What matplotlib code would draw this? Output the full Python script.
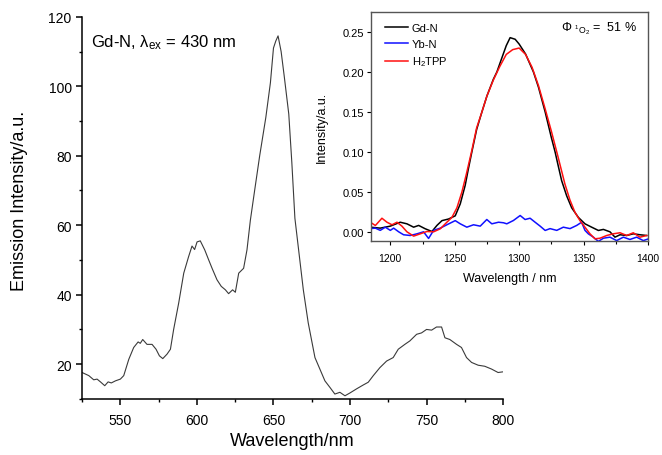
import matplotlib
matplotlib.use('Agg')
import matplotlib.pyplot as plt
from matplotlib.ticker import MultipleLocator

plt.rcParams['font.family'] = ['Liberation Sans', 'DejaVu Sans']
plt.rcParams['mathtext.fontset'] = 'custom'
plt.rcParams['mathtext.rm'] = 'Liberation Sans'
plt.rcParams['mathtext.it'] = 'Liberation Sans:italic'
plt.rcParams['mathtext.default'] = 'regular'

# main emission spectrum (Gd-N, excitation 430 nm)
wl_main = [525, 529.4, 532.6, 534.8, 537, 539.8, 542, 544.1, 546.8, 550,
           552.2, 555.5, 558.7, 561.6, 563, 564.6, 567.4, 570.7, 573.3, 575.5,
           577.7, 580.5, 582.7, 584.8, 588.1, 591.4, 594.6, 596.8, 598.5, 600.1,
           602.2, 605.1, 607.7, 609.9, 613.1, 615.9, 618.6, 620.7, 623.3, 625.1,
           627.3, 630.5, 632.7, 634.9, 637.7, 641, 645, 648, 650, 651.5,
           653, 655, 657, 660, 662, 664, 669.5, 672.7, 677.1, 680.3,
           683.6, 686.9, 690.1, 693.4, 696.7, 699.9, 704.3, 708.6, 711.9, 715.2,
           719.5, 723.9, 728.2, 731.5, 735.8, 739.1, 743.5, 746.7, 750, 753.3,
           756.5, 759.8, 762, 765.2, 769.6, 772.8, 776.1, 779.4, 783.7, 788,
           792.4, 796.7, 800]
em_main = [17.6, 16.7, 15.5, 15.7, 14.9, 13.8, 14.9, 14.6, 15.2, 15.7,
           16.7, 21.4, 24.8, 26.4, 26.0, 27.1, 25.7, 25.7, 24.3, 22.4,
           21.6, 22.9, 24.3, 30.0, 37.6, 46.2, 51.0, 54.0, 53.0, 55.2,
           55.5, 52.9, 50.0, 47.6, 44.3, 42.4, 41.4, 40.3, 41.4, 40.7,
           46.2, 47.6, 52.9, 61.4, 70.0, 80.0, 91.0, 101.0, 111.0, 113.0,
           114.5, 110.0, 103.0, 92.0, 78.0, 62.0, 41.4, 31.9, 21.9, 18.6,
           15.2, 13.3, 11.4, 11.9, 10.9, 11.7, 12.9, 14.0, 14.8, 16.7,
           19.0, 20.9, 21.9, 24.3, 25.7, 26.7, 28.6, 29.0, 30.0, 29.8,
           30.7, 30.7, 27.6, 27.1, 25.7, 24.8, 21.9, 20.5, 19.7, 19.4,
           18.6, 17.6, 17.8]

# inset: singlet oxygen phosphorescence
wl_gd = [1184.5, 1192.2, 1200, 1207.7, 1212.9, 1218.1, 1222, 1227.1, 1232.3, 1236.2,
         1240.1, 1245.2, 1250.4, 1254.3, 1258.1, 1260.5, 1263.3, 1267, 1271.1, 1275, 1280,
         1282.7, 1286, 1290, 1293, 1296.9, 1300, 1305, 1311.1, 1315, 1320.2,
         1325, 1327.9, 1330, 1333, 1336.9, 1340.8, 1346, 1351.1, 1356.3, 1361.5,
         1365.4, 1370.5, 1374.4, 1378.3, 1383.5, 1388.6, 1393.8, 1399]
gd_n = [0.0058, 0.0046, 0.0071, 0.012, 0.010, 0.0058, 0.008, 0.0038, 0.0004, 0.008,
        0.014, 0.016, 0.020, 0.035, 0.058, 0.078, 0.100, 0.128, 0.150, 0.170, 0.191,
        0.200, 0.215, 0.233, 0.243, 0.241, 0.235, 0.2225, 0.200, 0.181, 0.150,
        0.118, 0.100, 0.085, 0.064, 0.045, 0.030, 0.018, 0.010, 0.0058, 0.0017,
        0.003, 0.0, -0.0067, -0.0037, -0.0046, -0.0025, -0.0037, -0.0046]

wl_h2 = [1184.5, 1188.4, 1193.5, 1197.4, 1201.3, 1205.2, 1209, 1212.9, 1218.1, 1223.3,
         1228.4, 1233.6, 1238.8, 1243.9, 1247.8, 1251.7, 1255.6, 1259, 1263.3, 1267,
         1271.1, 1275, 1280, 1285, 1290, 1295, 1300, 1305, 1310, 1315,
         1320, 1325, 1330, 1335.5, 1339.4, 1343.3, 1347.2, 1351.1, 1355, 1358.9,
         1362.8, 1368, 1373.1, 1378.3, 1383.5, 1388.6, 1393.8, 1399]
h2tpp = [0.012, 0.0079, 0.017, 0.012, 0.0088, 0.012, 0.0071, 0.0, -0.0054, -0.0025,
         0.0004, 0.0, 0.0038, 0.012, 0.018, 0.030, 0.050, 0.072, 0.102, 0.130,
         0.150, 0.170, 0.190, 0.207, 0.222, 0.228, 0.230, 0.222, 0.206, 0.183,
         0.155, 0.126, 0.095, 0.060, 0.040, 0.0245, 0.014, 0.0058, -0.0025, -0.0088,
         -0.008, -0.0046, -0.0025, -0.0012, -0.0046, -0.0012, -0.0067, -0.0046]

wl_yb = [1184.5, 1188.4, 1192.2, 1196.1, 1200, 1202.6, 1206.5, 1210.3, 1215.5, 1220.7,
         1225.8, 1229.7, 1233.6, 1238.8, 1243.9, 1250.4, 1254.3, 1259.4, 1264.6, 1269.8,
         1274.9, 1278.8, 1284, 1287.9, 1290.4, 1295.6, 1300.8, 1304.6, 1308.5, 1312.4,
         1316.3, 1320.2, 1324, 1329.2, 1334.3, 1339.5, 1344.7, 1348.5, 1351.1, 1353.7,
         1357.6, 1361.5, 1365.4, 1370.5, 1375.7, 1380.9, 1386, 1391.2, 1396.4, 1400]
yb_n = [0.004, 0.0046, 0.0018, 0.0058, 0.0018, 0.0046, 0.0, -0.0037, -0.0046, -0.0025,
        0.0, -0.0083, 0.0018, 0.0046, 0.0088, 0.014, 0.010, 0.0058, 0.0088, 0.0071,
        0.0154, 0.010, 0.012, 0.0113, 0.010, 0.0142, 0.0204, 0.0154, 0.017, 0.012,
        0.0071, 0.0017, 0.004, 0.0018, 0.0058, 0.004, 0.008, 0.012, 0.0018, -0.0025,
        -0.0067, -0.012, -0.008, -0.0067, -0.011, -0.0067, -0.0096, -0.0067, -0.011, -0.009]

fig = plt.figure(figsize=(6.62, 4.56), dpi=100)

ax = fig.add_axes([0.124, 0.123, 0.636, 0.838])
ax.plot(wl_main, em_main, color='#3a3a3a', lw=0.8)
ax.set_xlim(525, 800)
ax.set_ylim(10, 120)
ax.spines['top'].set_visible(False)
ax.spines['right'].set_visible(False)
for s in ('left', 'bottom'):
    ax.spines[s].set_linewidth(1.1)
ax.xaxis.set_major_locator(MultipleLocator(50))
ax.xaxis.set_minor_locator(MultipleLocator(25))
ax.yaxis.set_major_locator(MultipleLocator(20))
ax.yaxis.set_minor_locator(MultipleLocator(10))
ax.tick_params(which='major', direction='out', length=4, width=1.1, labelsize=10)
ax.tick_params(axis='x', which='major', pad=6.5)
ax.tick_params(which='minor', direction='out', length=2.5, width=1.0)
ax.set_xlabel('Wavelength/nm', fontsize=13, labelpad=3.5)
ax.set_ylabel('Emission Intensity/a.u.', fontsize=13)
ax.yaxis.set_label_coords(-0.128, 0.52)
ax.text(0.022, 0.9346, r'Gd-N, $\lambda_{ex}$ = 430 nm', transform=ax.transAxes,
        fontsize=12, va='center', ha='left')

ins = fig.add_axes([0.5604, 0.4693, 0.4184, 0.502])
ins.plot(wl_gd, gd_n, color='black', lw=1.1, label='Gd-N')
ins.plot(wl_yb, yb_n, color='#1010ff', lw=1.1, label='Yb-N')
ins.plot(wl_h2, h2tpp, color='#ff1010', lw=1.1, label=r'H$_2$TPP')
ins.set_xlim(1185, 1400)
ins.set_ylim(-0.0115, 0.275)
for s in ins.spines.values():
    s.set_color('#555555')
    s.set_linewidth(1.0)
ins.xaxis.set_major_locator(MultipleLocator(50))
ins.xaxis.set_minor_locator(MultipleLocator(25))
ins.set_yticks([0.0, 0.05, 0.1, 0.15, 0.2, 0.25])
ins.set_yticklabels(['0.00', '0.05', '0.10', '0.15', '0.20', '0.25'])
ins.tick_params(which='major', direction='out', length=3, width=0.8, labelsize=7.5, pad=2)
ins.tick_params(axis='y', which='major', labelsize=8)
ins.tick_params(axis='x', which='major', pad=5.5)
ins.tick_params(which='minor', direction='out', length=2, width=0.8)
ins.set_xlabel('Wavelength / nm', fontsize=9, labelpad=6.5)
ins.set_ylabel('Intensity/a.u.', fontsize=9)
ins.yaxis.set_label_coords(-0.157, 0.5)
ins.legend(loc='upper left', bbox_to_anchor=(0.035, 0.973), borderaxespad=0,
           frameon=False, fontsize=8, handlelength=2.1,
           handletextpad=0.3, labelspacing=0.53)
ins.text(0.96, 0.93, r'$\Phi$ $_{^1O_2}$ =  51 %', transform=ins.transAxes,
         fontsize=9, ha='right', va='center')

fig.savefig('out.png', dpi=100)
